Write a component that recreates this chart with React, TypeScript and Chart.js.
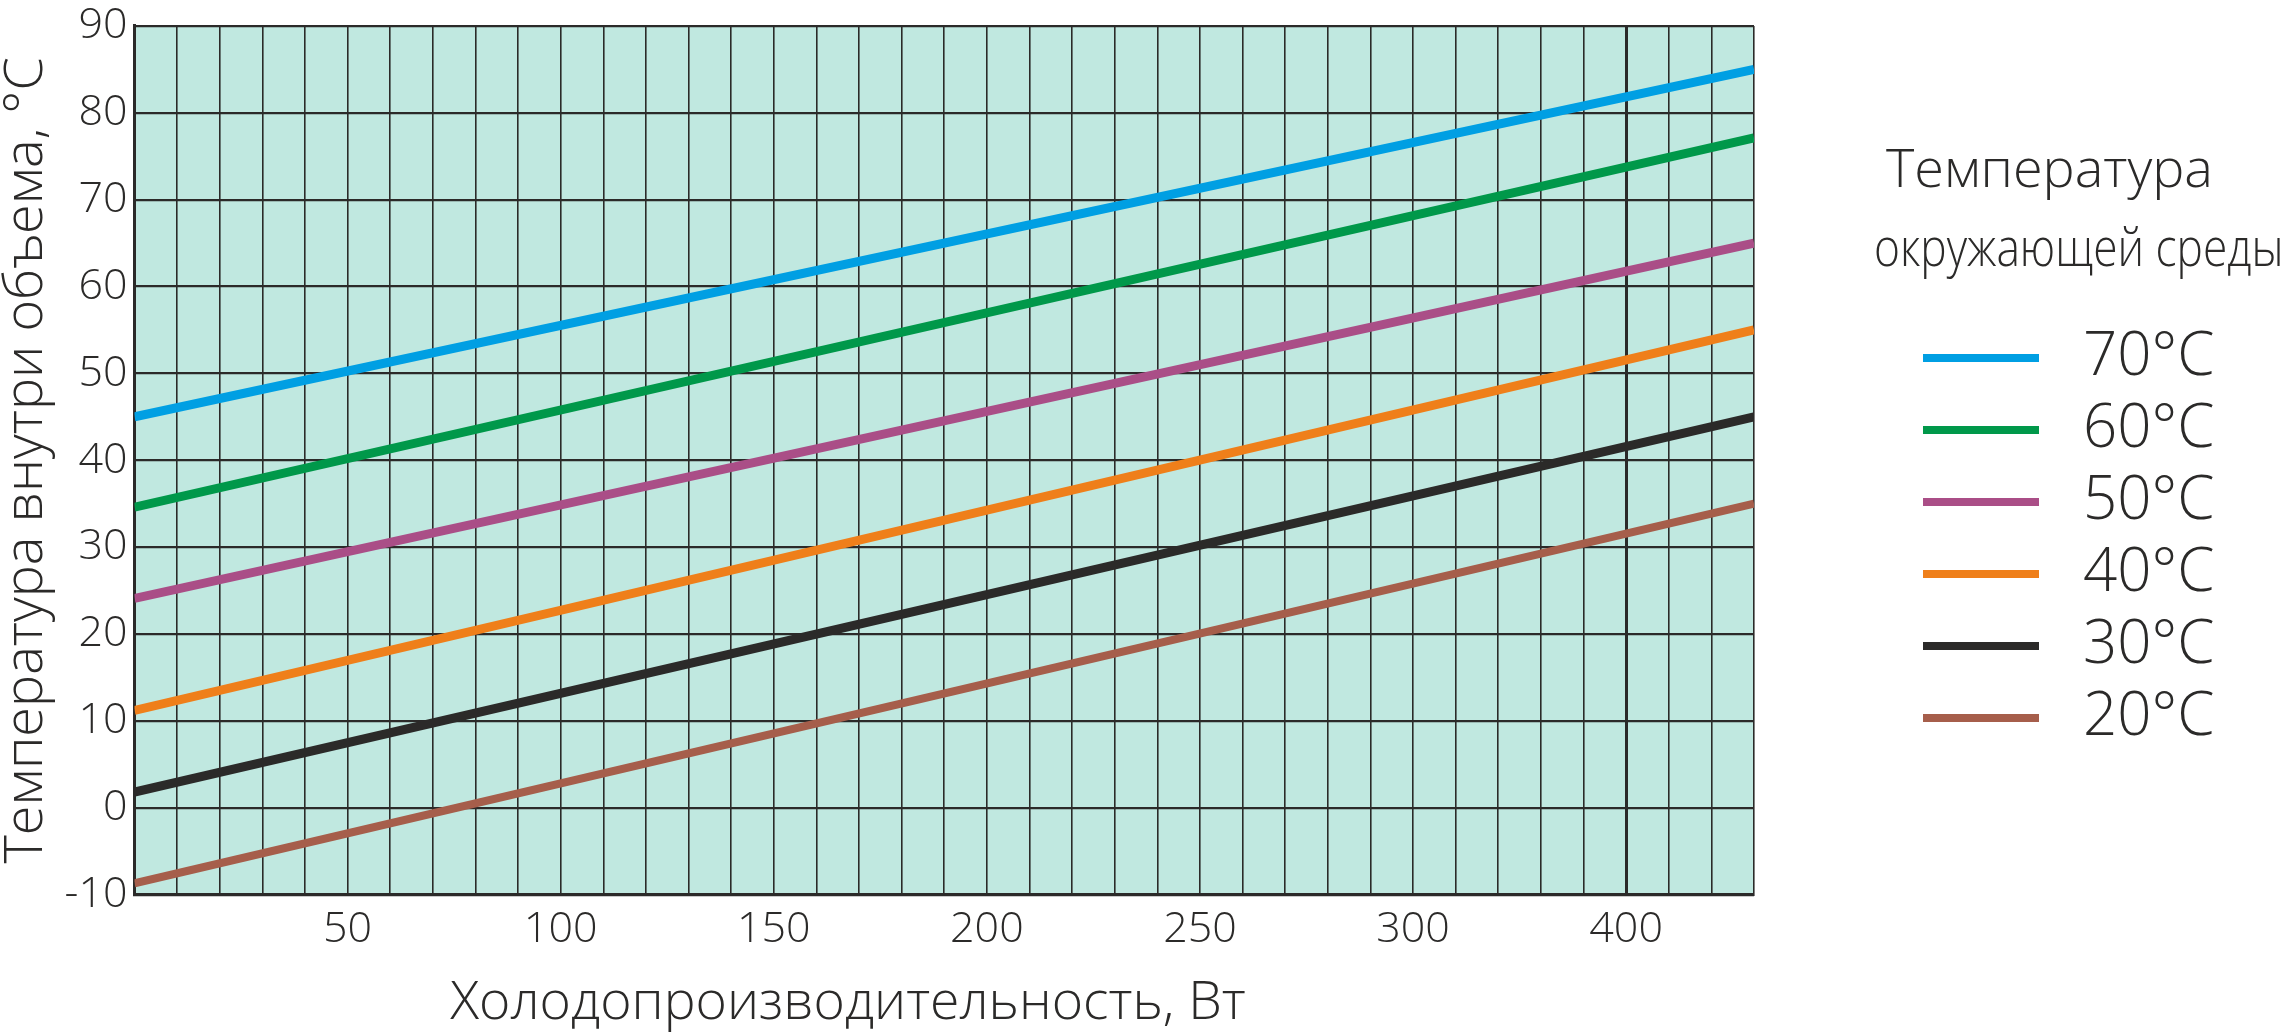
import { useEffect, useRef } from "react";
import { Chart, registerables } from "chart.js";

Chart.register(...registerables);

// холодопроизводительность, Вт (начало и конец каждой прямой)
const capacity = [0, 380];

// температура внутри объема для каждой температуры окружающей среды
const t70 = [45, 85];
const t60 = [34.6, 77.1];
const t50 = [24.1, 65];
const t40 = [11.2, 55];
const t30 = [1.8, 45];
const t20 = [-8.7, 35];

const seriesNames = ["70°C", "60°C", "50°C", "40°C", "30°C", "20°C"];
const seriesColors = ["#009fe3", "#00984a", "#aa4e87", "#ef7f1a", "#2b2a29", "#a65e4b"];

// подписи оси X (на картинке у отметки 350 стоит "400")
const xTickValues = [50, 100, 150, 200, 250, 300, 350];
const xTickLabels = ["50", "100", "150", "200", "250", "300", "400"];

const legendTitle = ["Температура", "окружающей среды"];
const xTitle = "Холодопроизводительность, Вт";
const yTitle = "Температура внутри объема, °C";

const FONT = '"Open Sans", "DejaVu Sans", sans-serif';
const INK = "#2b2a29";

const App = () => {
  const chartRef = useRef<HTMLCanvasElement | null>(null);

  useEffect(() => {
    const ctx = chartRef.current?.getContext("2d");
    if (!ctx) return;

    const values = [t70, t60, t50, t40, t30, t20];

    const datasets = values.map((v, i) => ({
      label: seriesNames[i],
      data: v.map((y, j) => ({ x: capacity[j], y })),
      borderColor: seriesColors[i],
      backgroundColor: seriesColors[i],
      borderWidth: i === 5 ? 8 : 9,
      pointRadius: 0,
      tension: 0,
      clip: 0,
    }));

    const plotFill = {
      id: "plotFill",
      beforeDraw(chart: any) {
        const { ctx, chartArea } = chart;
        ctx.save();
        ctx.fillStyle = "#c0e8e0";
        ctx.fillRect(chartArea.left, chartArea.top, chartArea.right - chartArea.left, chartArea.bottom - chartArea.top);
        ctx.restore();
      },
    };

    const sideText = {
      id: "sideText",
      afterDraw(chart: any) {
        const c = chart.ctx;
        c.save();
        c.fillStyle = INK;
        c.textBaseline = "middle";

        // подпись оси X
        c.font = `300 53.5px ${FONT}`;
        c.textAlign = "center";
        c.fillText(xTitle, 848, 1004);

        // заголовок легенды
        c.textAlign = "left";
        c.font = `300 54px ${FONT}`;
        c.fillText(legendTitle[0], 1886, 172);
        c.save();
        c.translate(1874, 251);
        c.scale(0.82, 1);
        c.fillText(legendTitle[1], 0, 0);
        c.restore();

        // элементы легенды
        c.font = `300 60px ${FONT}`;
        chart.data.datasets.forEach((ds: any, i: number) => {
          const y = 358 + i * 72;
          c.strokeStyle = ds.borderColor;
          c.lineWidth = 8;
          c.beginPath();
          c.moveTo(1923, y);
          c.lineTo(2039, y);
          c.stroke();
          c.fillText(ds.label, 2083, y);
        });
        c.restore();
      },
    };

    const chart = new Chart(ctx, {
      type: "line",
      data: { datasets },
      options: {
        animation: false,
        responsive: false,
        layout: { padding: { top: 19, right: 538, left: 0, bottom: 0 } },
        plugins: {
          legend: { display: false },
          tooltip: { enabled: false },
        },
        scales: {
          x: {
            type: "linear",
            min: 0,
            max: 380,
            afterFit(scale: any) {
              scale.height = 138.4;
            },
            ticks: {
              stepSize: 10,
              autoSkip: false,
              maxRotation: 0,
              padding: 14,
              color: INK,
              font: { family: FONT, size: 43, weight: "300", lineHeight: 1 },
              callback: (v: any) => {
                const k = xTickValues.indexOf(Number(v));
                return k >= 0 ? xTickLabels[k] : "";
              },
            },
            grid: {
              drawTicks: false,
              color: INK,
              lineWidth: (c: any) => (c.tick && c.tick.value === 350 ? 3 : 1.6),
            },
            border: { display: true, color: INK, width: 3 },
          },
          y: {
            min: -10,
            max: 90,
            afterFit(scale: any) {
              scale.width = 134.5;
            },
            ticks: {
              stepSize: 10,
              padding: 7,
              color: INK,
              font: { family: FONT, size: 43, weight: "300", lineHeight: 0.88 },
            },
            grid: { drawTicks: false, color: INK, lineWidth: 2.2 },
            border: { display: true, color: INK, width: 3 },
            title: {
              display: true,
              text: yTitle,
              color: INK,
              padding: 0,
              font: { family: FONT, size: 54, weight: "300", lineHeight: 1 },
            },
          },
        },
      },
      plugins: [plotFill, sideText],
    });

    return () => {
      chart.destroy();
    };
  }, []);

  return (
    <div style={{ position: "fixed", left: 0, top: 0, width: 2292, height: 1033, background: "#fff" }}>
      <canvas ref={chartRef} width={2292} height={1033} style={{ display: "block" }}></canvas>
    </div>
  );
};

export default App;
